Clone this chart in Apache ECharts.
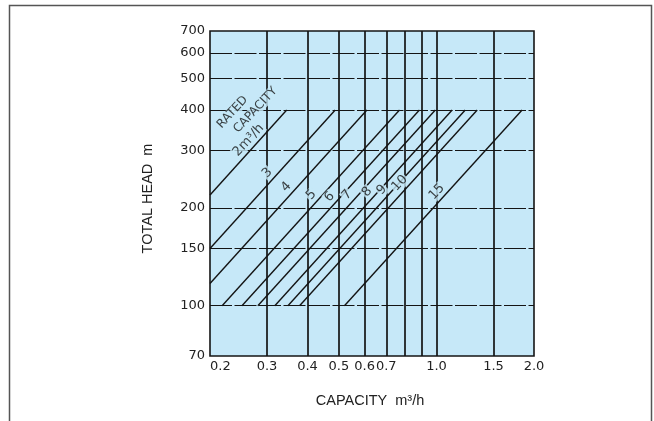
<!DOCTYPE html>
<html><head><meta charset="utf-8">
<script src="https://cdn.jsdelivr.net/npm/echarts@6/dist/echarts.min.js"></script>
<style>html,body{margin:0;padding:0;background:#fff}#c{width:654px;height:421px}</style>
</head><body><div id="c"></div>
<script>
// ---- data ----
const xTickLabels = [0.2, 0.3, 0.4, 0.5, 0.6, 0.7, 1.0, 1.5, 2.0];
const xGridValues = [0.3, 0.4, 0.5, 0.6, 0.7, 0.8, 0.9, 1.0, 1.5];
const yTickLabels = [70, 100, 150, 200, 300, 400, 500, 600, 700];
const yGridValues = [100, 150, 200, 300, 400, 500, 600];
const ratedNames = ['2', '3', '4', '5', '6', '7', '8', '9', '10', '15'];
const lineStart = [[0.2, 219], [0.2, 150], [0.2, 117], [0.218, 100], [0.251, 100], [0.281, 100], [0.317, 100], [0.348, 100], [0.378, 100], [0.520, 100]];
const lineEnd = [[0.345, 400], [0.487, 400], [0.610, 400], [0.769, 400], [0.886, 400], [0.992, 400], [1.118, 400], [1.227, 400], [1.336, 400], [1.838, 400]];
const labelHead = [323, 256, 232, 219, 216, 219, 224, 227, 238, 224];

// ---- style ----
const FONT = 'DejaVu Sans';
const BLUE = '#c6e8f8';
const INK = '#141414';
const ROT = 47;

function pointAtHead(s, e, h) {
  const t = (Math.log(h) - Math.log(s[1])) / (Math.log(e[1]) - Math.log(s[1]));
  return [Math.exp(Math.log(s[0]) + t * (Math.log(e[0]) - Math.log(s[0]))), h];
}
// label offsets rotate with the text: convert a screen offset to the text frame
function scr(dx, dy) {
  const a = ROT * Math.PI / 180, c = Math.cos(a), s = Math.sin(a);
  return [dx * c - dy * s, dx * s + dy * c];
}

const chart = echarts.init(document.getElementById('c'), null, {renderer: 'canvas'});

const series = [];
series.push({
  type: 'line', data: [], z: 1, silent: true,
  markLine: {
    silent: true, symbol: ['none', 'none'], label: {show: false}, animation: false,
    data: [
      ...xGridValues.map(v => ({xAxis: v, lineStyle: {type: 'solid', width: 1.7, color: INK}})),
      ...yGridValues.map(v => ({yAxis: v, lineStyle: {type: [22, 2.5], width: 1.2, color: INK}}))
    ]
  }
});
ratedNames.forEach((n, i) => series.push({
  type: 'line', name: n, data: [lineStart[i], lineEnd[i]], symbol: 'none', silent: true, z: 2,
  lineStyle: {color: INK, width: 1.4}
}));
const labelData = ratedNames.map((n, i) => ({
  value: pointAtHead(lineStart[i], lineEnd[i], labelHead[i]),
  name: i === 0 ? '2m³/h' : n
}));
series.push({
  type: 'scatter', symbolSize: 0, z: 5, silent: true, data: labelData,
  label: {show: true, position: 'inside', formatter: p => p.name, rotate: ROT, offset: scr(-11, 0),
    color: INK, fontFamily: FONT, fontSize: 13, backgroundColor: BLUE, padding: [0, 1]}
});
const anchor2 = pointAtHead(lineStart[0], lineEnd[0], labelHead[0]);
series.push({
  type: 'scatter', symbolSize: 0, z: 5, silent: true,
  data: [
    {value: anchor2, name: 'RATED', label: {offset: scr(-27, -28)}},
    {value: anchor2, name: 'CAPACITY', label: {offset: scr(-4, -30)}}
  ],
  label: {show: true, position: 'inside', formatter: p => p.name, rotate: ROT,
    color: INK, fontFamily: FONT, fontSize: 12, backgroundColor: BLUE, padding: [0, 1]}
});

chart.setOption({
  animation: false,
  grid: {left: 210, top: 31, right: 120, bottom: 65, show: true, backgroundColor: BLUE, borderColor: INK, borderWidth: 1.6},
  xAxis: {
    type: 'log', logBase: 10, min: 0.2, max: 2.0,
    name: 'CAPACITY  m³/h', nameLocation: 'middle', nameGap: 37,
    nameTextStyle: {fontFamily: 'Liberation Sans', fontSize: 14.5, color: '#222', padding: [0, 4, 0, 0]},
    axisLine: {show: false}, axisTick: {show: false}, splitLine: {show: false}, minorSplitLine: {show: false},
    axisLabel: {customValues: xTickLabels, formatter: v => Number(v).toFixed(1), margin: 4,
      fontFamily: FONT, fontSize: 13, color: '#222', alignMinLabel: 'left'}
  },
  yAxis: {
    type: 'log', logBase: 10, min: 70, max: 700,
    name: 'TOTAL HEAD  m', nameLocation: 'middle', nameGap: 55, nameRotate: 90,
    nameTextStyle: {fontFamily: 'Liberation Sans', fontSize: 14.5, color: '#222', padding: [0, 10, 0, 0]},
    axisLine: {show: false}, axisTick: {show: false}, splitLine: {show: false}, minorSplitLine: {show: false},
    axisLabel: {customValues: yTickLabels, formatter: v => String(Math.round(v)), margin: 5,
      fontFamily: FONT, fontSize: 13, color: '#222'}
  },
  graphic: [{type: 'rect', shape: {x: 9.5, y: 5.5, width: 642, height: 450},
    style: {fill: 'none', stroke: '#555', lineWidth: 1.5}, silent: true, z: -10}],
  series: series
});
</script></body></html>
